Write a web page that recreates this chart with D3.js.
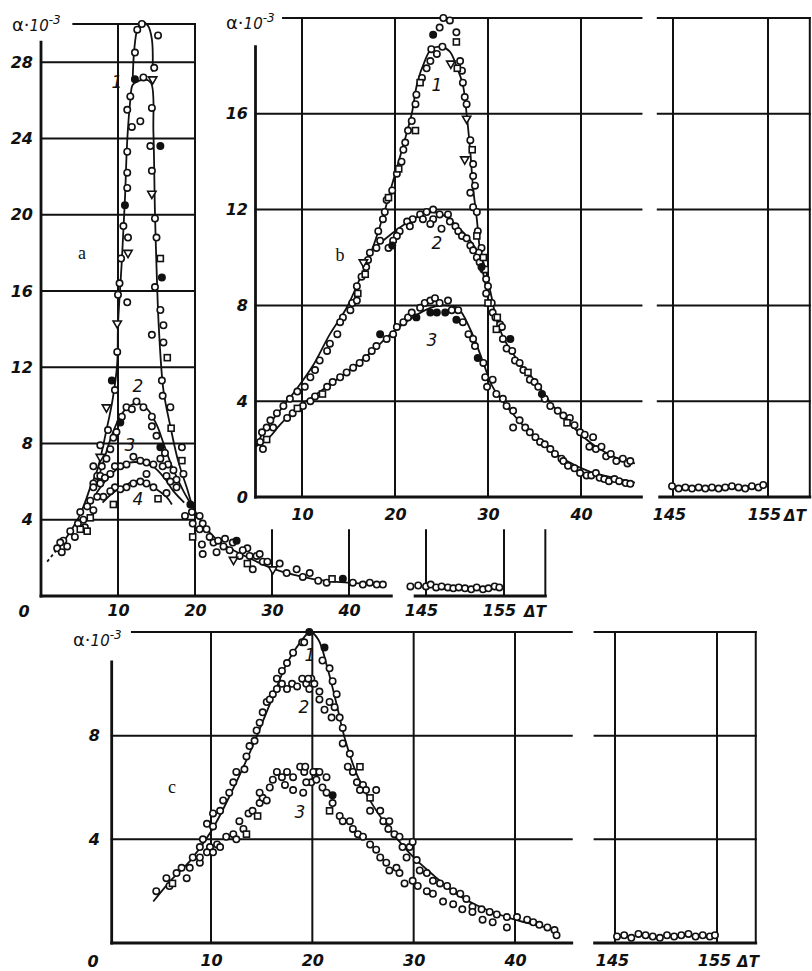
<!DOCTYPE html>
<html><head><meta charset="utf-8">
<script src="https://cdn.jsdelivr.net/npm/d3@7"></script>
<style>body{margin:0;background:#fff}svg{display:block}</style>
</head><body>
<svg id="chart" width="812" height="971"></svg>
<script>
// ---------- tick labels ----------
const aYTicks = [4, 8, 12, 16, 20, 24, 28];
const aXTicks = [10, 20, 30, 40];
const bYTicks = [4, 8, 12, 16];
const bXTicks = [10, 20, 30, 40];
const cYTicks = [4, 8];
const cXTicks = [10, 20, 30, 40];
const breakTicks = [145, 155];

// ---------- panel a : curves ----------
const aTailDash = [[0.8,1.8],[2.0,2.4]];
const aCurve1 = [[2.0,2.4],[3.0,2.9],[4.0,3.5],[5.0,4.2],[5.8,5.0],[6.4,5.7],[7.3,6.6],[8.5,8.7],[9.3,10.3],[9.9,12.2],[10.0,14.2],[10.5,17.6],[10.9,20.8],[11.2,23.9],[11.6,26.0],[11.9,26.8],[12.6,27.0],[13.5,27.1],[14.3,26.9],[14.6,24.3],[14.8,20.1],[15.0,17.3],[15.3,14.1],[15.9,10.8],[16.8,8.9],[17.8,7.1],[19.0,5.6],[19.7,4.7],[21,3.8],[23,2.9],[25,2.4],[27.5,1.9],[30,1.45],[33,1.1],[36,0.85],[40,0.7],[44.5,0.6]];
const aCurve1Top = [[11.9,27.0],[12.1,28.6],[12.5,29.7],[13.1,30.1],[13.9,29.9],[14.4,29.2],[14.5,27.5]];
const aCurve2 = [[7.0,5.6],[8.0,6.9],[9.0,8.2],[10.0,9.2],[11.0,9.8],[12.4,10.1],[13.8,9.8],[15.0,9.0],[16.0,7.9],[17.0,6.8],[18.5,5.5],[19.5,4.8]];
const aCurve3 = [[7.2,5.4],[8.5,6.1],[10,6.7],[11.5,7.0],[13,7.0],[14.5,6.8],[16,6.2],[17.2,5.5],[18.6,4.9]];
const aCurve4 = [[8.0,4.9],[9.0,5.3],[10.5,5.7],[12,6.0],[13.5,5.95],[15,5.6],[16.3,5.2],[17.0,4.8]];

// ---------- panel a : measured points ----------
const aOpen = [[13.1,30.0],[12.5,29.7],[12.2,28.5],[15.2,29.4],[14.7,27.7],[13.3,27.2],[11.6,26.2],[11.2,25.5],[12.9,24.9],[14.4,25.6],[11.8,24.6],[14.2,23.6],[11.2,23.3],[11.2,22.2],[14.4,22.3],[11.2,21.4],[14.8,19.8],[10.7,19.4],[11.3,18.8],[15.0,18.8],[10.4,17.7],[10.2,16.4],[14.8,16.2],[10.0,15.8],[11.2,15.4],[15.5,15.0],[15.9,14.2],[14.4,13.7],[15.9,13.3],[9.9,12.8],[9.6,10.8],[15.7,11.3],[15.8,10.5],[16.8,9.9],[8.7,8.7],[7.7,7.9],[18.3,7.8],[6.8,6.8],[7.3,6.3],[18.5,6.4],[6.8,5.9],
 [12.4,10.2],[11.1,9.9],[13.3,9.9],[11.8,9.8],[14.4,9.4],[10.5,9.4],[9.8,8.6],[14.4,8.9],[15.0,8.4],[9.4,8.3],[9.0,7.7],[16.1,7.5],[8.5,7.2],[16.5,6.9],[7.9,6.8],[17.2,6.6],[7.7,6.3],[17.6,6.1],
 [12.0,7.3],[12.9,7.1],[13.7,7.0],[11.1,6.9],[14.6,6.9],[15.5,7.2],[10.3,6.8],[9.6,6.8],[15.8,6.8],[9.0,6.4],[16.3,6.3],[8.3,6.2],[16.8,6.0],[7.7,5.9],[17.6,5.7],[13.7,6.4],
 [12.9,6.0],[12.0,5.9],[13.7,5.9],[11.1,5.7],[14.6,5.7],[10.3,5.6],[9.6,5.7],[9.0,5.5],[16.3,5.4],[8.1,5.2],
 [7.3,5.2],[6.4,5.0],[6.0,4.7],[6.8,4.5],[5.1,4.4],[5.5,4.0],[4.8,3.8],[5.7,3.6],[3.8,3.4],[2.9,2.9],[2.5,2.8],[3.4,2.6],[2.1,2.5],[2.7,2.3],[4.4,3.1],[6.8,5.7],
 [19.6,4.4],[18.7,4.2],[19.7,3.8],[20.6,4.2],[21.0,3.8],[20.6,3.5],[21.5,3.5],[21.9,3.1],[20.9,2.7],[21.0,2.2],[22.4,2.8],[23.0,2.9],[22.8,2.3],[23.7,2.6],[23.9,3.0],[24.5,2.4],[25.8,2.1],[26.8,2.5],[27.5,1.4],[28.0,2.1],[28.8,1.8],[24.9,2.8],[26.2,2.4],[27.1,2.1],[28.4,2.2],[29.4,1.8],[31.0,1.7],[31.9,1.2],[33.2,1.4],[34.0,1.0],[34.9,1.2],[36.0,0.8],[37.1,0.7],[40.5,0.7],[41.8,0.6],[42.7,0.7],[43.6,0.6],[44.4,0.6]];
const aFilled = [[12.2,27.1],[15.5,23.6],[10.9,20.5],[15.7,16.7],[9.2,11.3],[10.3,9.1],[15.5,7.8],[19.4,4.8],[25.4,2.9],[39.2,0.9]];
const aSquare = [[15.5,17.7],[16.4,12.5],[16.9,8.8],[18.3,7.1],[15.2,5.1],[9.4,4.8],[6.4,4.1],[5.1,3.5],[6.0,3.4],[19.7,3.1],[26.8,1.7],[37.8,0.9]];
const aTriangle = [[14.5,27.1],[14.4,21.1],[11.3,18.0],[9.9,14.3],[8.5,9.9],[7.7,7.3],[25.0,1.9],[30.1,1.4]];
const aBreakPts = [[143.0,0.5],[144.0,0.55],[145.0,0.5],[145.6,0.6],[146.3,0.45],[147.0,0.5],[147.8,0.45],[148.5,0.4],[149.2,0.45],[150.0,0.4],[150.8,0.35],[151.5,0.45],[152.3,0.35],[153.0,0.4],[153.8,0.5],[154.4,0.45]];

// ---------- panel b : curves ----------
const bCurve1 = [[5.0,2.1],[6,2.8],[7.6,3.6],[9.4,4.5],[11.2,5.5],[13.0,6.8],[14.8,7.9],[16.2,9.1],[17.6,10.4],[18.7,11.7],[19.8,13.2],[20.9,14.7],[21.8,16.0],[22.4,17.3],[23.2,18.2],[23.9,18.7],[25.0,18.8],[25.9,18.6],[26.6,18.0],[27.3,17.2],[27.7,16.0],[28.1,14.4],[28.4,12.9],[28.8,11.6],[29.1,10.4],[29.5,9.3],[29.9,8.6]];
const bCurve2 = [[17.5,10.3],[18.7,10.7],[20,11.1],[21.5,11.5],[23,11.8],[24.1,11.9],[25.5,11.7],[26.7,11.3],[28.1,10.7],[29.5,9.8],[30.3,8.5],[31,7.3],[32,6.4],[33.4,5.6],[35.3,4.7],[37,3.8],[38.5,3.2],[40,2.6],[42,2.0],[44,1.6],[45.8,1.4]];
const bCurve3 = [[5.0,2.1],[6.5,2.5],[7.6,3.0],[9.4,3.7],[11.2,4.2],[13,4.7],[14.8,5.2],[17.3,6.0],[19.8,6.9],[21.9,7.5],[23.8,7.9],[25,8.0],[26.7,7.9],[28.1,7.0],[29.5,5.6],[30.5,4.6],[32.4,3.6],[34.5,2.7],[36.7,2.0],[38.5,1.5],[41,1.05],[43.5,0.8],[45.8,0.6]];

// ---------- panel b : measured points ----------
const bOpen = [[25.2,20.0],[25.9,19.9],[24.8,19.6],[26.6,19.4],[23.9,18.7],[25.1,18.8],[24.5,18.5],[27.0,18.2],[23.8,18.2],[23.4,17.9],[27.2,17.8],[22.9,17.5],[27.3,17.3],[22.3,16.8],[27.5,16.7],[27.7,16.4],[22.2,16.4],[21.8,15.7],[21.4,15.3],[21.1,14.8],[20.9,14.5],[28.1,14.9],[20.7,14.0],[28.4,13.9],[20.2,13.5],[28.4,13.4],[19.7,12.8],[28.6,13.0],[28.1,12.7],[19.1,12.4],[28.4,12.1],[18.9,11.9],[28.8,11.9],[18.7,11.6],[28.9,11.1],[18.2,11.1],[18.4,10.7],[18.0,10.4],[29.3,10.4],[29.0,10.2],[17.3,10.2],[17.1,9.9],[16.9,9.6],[16.4,9.2],[29.8,9.1],[15.9,8.8],[29.8,8.5],[15.4,8.1],
 [24.1,12.0],[23.4,11.9],[22.7,11.8],[24.8,11.8],[25.7,11.8],[21.9,11.6],[23.0,11.6],[24.1,11.6],[25.9,11.5],[21.3,11.5],[23.8,11.4],[21.6,11.3],[25.0,11.2],[26.5,11.3],[20.5,11.1],[26.8,11.1],[20.2,10.9],[27.2,10.9],[19.8,10.7],[27.7,10.8],[28.1,10.5],[19.3,10.4],[28.4,10.3],[28.8,10.0],[29.1,9.8],[29.5,9.5],[30.0,8.8],[30.4,8.1],[30.5,7.7],[31.3,7.2],[30.8,7.5],[31.5,7.1],[31.6,6.6],[32.0,6.2],[32.6,6.1],[32.9,5.7],[33.4,5.6],[33.8,5.3],[34.5,4.9],[35.0,4.8],[35.4,4.6],[36.1,4.1],[36.7,3.8],[37.5,3.6],[38.1,3.4],[38.8,3.3],[39.3,3.0],[39.9,2.7],[40.4,2.6],[41.3,2.5],[40.9,2.1],[41.6,2.0],[42.2,2.1],[42.7,1.7],[43.2,1.8],[43.8,1.5],[44.5,1.6],[45.0,1.4],[45.3,1.5],
 [14.4,7.5],[15.2,7.8],[14.1,7.3],[15.9,8.2],[13.8,6.8],[13.0,6.4],[12.7,6.1],[11.9,5.7],[11.4,5.3],[10.9,5.0],[10.3,4.6],[9.5,4.4],[8.7,4.1],[8.0,3.8],[7.3,3.5],[6.6,3.2],[6.2,2.9],[5.7,2.7],[5.5,2.3],[5.8,2.0],[6.9,2.9],
 [8.4,3.3],[9.0,3.5],[10.1,3.8],[10.9,4.0],[11.4,4.2],[12.7,4.6],[13.3,4.8],[14.1,5.0],[14.8,5.2],[15.5,5.4],[16.2,5.6],[16.9,5.8],[17.5,6.1],[18.0,6.3],[19.1,6.6],[19.8,6.8],[20.2,7.1],[20.9,7.3],[21.4,7.5],[21.8,7.7],[22.7,7.9],[23.2,8.1],[23.8,8.2],[24.3,8.3],[24.8,8.1],[25.7,8.2],[26.1,7.8],[26.8,7.8],[27.3,7.3],[27.9,6.8],[28.4,6.6],[28.6,6.3],[29.5,5.6],[29.7,5.0],[29.9,4.6],[30.5,4.9],[30.9,4.3],[31.6,4.1],[32.0,3.8],[32.7,3.6],[32.7,2.9],[33.4,3.2],[34.0,2.9],[34.5,2.7],[35.1,2.5],[35.6,2.3],[36.1,2.2],[36.7,2.0],[37.2,1.8],[37.9,1.6],[38.1,1.5],[38.6,1.3],[39.3,1.2],[39.9,1.0],[40.6,0.9],[41.1,0.9],[41.6,1.0],[42.0,0.8],[42.5,0.75],[43.0,0.66],[43.6,0.75],[44.1,0.66],[44.8,0.58],[45.3,0.55]];
const bFilled = [[24.1,19.3],[29.3,9.6],[19.7,10.5],[32.4,6.6],[35.8,4.3],[18.4,6.8],[22.3,7.5],[23.8,7.7],[24.5,7.7],[25.4,7.7],[26.6,7.4],[28.9,5.8]];
const bSquare = [[26.6,19.0],[26.7,17.9],[22.7,17.3],[22.2,15.3],[28.3,14.5],[20.4,13.7],[19.3,12.5],[28.8,10.9],[29.5,10.0],[29.7,9.5],[16.8,9.3],[16.0,8.5],[30.0,8.1],[31.0,7.5],[30.9,7.0],[34.3,5.2],[38.5,3.1],[6.2,2.4],[9.5,3.7],[12.2,4.3]];
const bTriangle = [[26.0,18.1],[27.7,15.8],[27.5,14.1],[16.6,9.8]];
const bBreakPts = [[144.9,0.45],[145.6,0.35],[146.3,0.4],[147.0,0.35],[147.7,0.4],[148.4,0.35],[149.1,0.4],[149.8,0.35],[150.5,0.4],[151.2,0.45],[151.9,0.4],[152.6,0.35],[153.3,0.45],[154.0,0.4],[154.5,0.5]];

// ---------- panel c : curve ----------
const cCurve1 = [[4.3,1.6],[6,2.4],[8,3.2],[10,4.3],[12,5.8],[14,7.5],[16,9.4],[17.5,10.8],[18.8,11.6],[19.8,12.0],[20.6,11.7],[21.5,10.6],[22.4,9.2],[23.2,7.9],[24.4,6.5],[26,5.3],[28,4.2],[30,3.3],[32,2.6],[34.2,1.9],[36.8,1.35],[40,0.9],[44.2,0.5]];

// ---------- panel c : measured points ----------
const cOpen = [[4.6,2.0],[5.6,2.5],[5.9,2.2],[6.6,2.7],[7.1,2.9],[7.6,2.5],[7.9,2.9],[8.2,3.3],[8.9,3.1],[8.9,3.7],[9.2,4.0],[9.9,3.7],[9.6,4.6],[10.2,4.5],[10.2,5.0],[10.9,5.1],[11.2,5.5],[11.8,5.8],[12.2,6.2],[12.5,6.6],[13.3,6.7],[13.5,7.2],[13.8,7.6],[14.3,7.8],[14.5,8.2],[14.8,8.5],[15.1,8.9],[15.5,9.3],[15.8,9.4],[16.1,9.6],[16.5,9.8],[17.0,10.0],[17.5,9.8],[18.0,10.0],[18.5,9.9],[19.0,10.2],[19.4,10.0],[19.9,10.2],[16.5,10.2],[17.0,10.5],[17.5,10.8],[18.1,11.2],[19.0,11.6],[19.2,11.6],[21.0,10.9],[21.7,10.6],[22.0,10.1],[22.4,9.6],[22.2,9.1],[22.7,8.7],[23.0,8.3],[23.0,7.7],[23.7,7.3],[23.5,6.8],[24.0,6.6],[24.4,6.2],[25.0,6.1],[25.3,5.9],[24.7,5.9],[26.3,5.9],[25.7,5.1],[26.7,5.1],[27.0,4.7],[27.6,4.7],[27.5,4.4],[28.1,4.2],[28.6,4.1],[28.9,3.7],[29.6,3.7],[29.9,3.9],[29.3,3.3],[30.3,3.2],[30.6,2.8],[31.3,2.7],[31.9,2.4],[32.6,2.3],[33.3,2.2],[33.9,2.0],[34.6,1.9],[35.2,1.7],[35.8,1.4],[36.7,1.3],[37.5,1.2],[38.2,1.1],[39.2,1.0],[40.2,1.0],[41.2,0.9],[41.8,0.8],[42.4,0.7],[43.2,0.6],[43.9,0.5],[44.1,0.3],[19.6,10.2],[20.2,10.0],[19.7,9.8],[20.7,9.7],[20.7,9.4],[21.2,9.0],[21.7,9.3],[21.9,8.7],
 [8.9,3.3],[9.6,3.5],[10.2,3.5],[10.6,3.8],[10.9,3.7],[11.5,4.1],[12.2,4.2],[12.5,4.0],[13.2,4.4],[12.8,4.7],[13.7,5.0],[14.1,5.1],[14.8,5.4],[15.1,5.6],[15.5,5.5],[14.8,5.8],[15.8,6.0],[16.1,6.3],[16.5,6.6],[17.0,6.4],[17.3,6.1],[17.5,6.6],[18.1,6.4],[18.1,5.9],[18.8,6.8],[19.1,5.8],[19.2,6.6],[19.9,6.2],[20.4,6.6],[19.3,6.8],[20.1,6.6],[20.7,6.6],[19.4,6.2],[20.4,6.3],[21.4,6.4],[21.0,6.0],[21.4,5.8],[22.0,5.4],[22.7,4.9],[23.0,4.7],[23.7,4.7],[24.0,4.4],[24.5,4.2],[25.0,4.1],[25.7,3.8],[26.3,3.6],[26.7,3.3],[27.3,3.1],[27.6,2.8],[28.3,2.9],[28.6,2.7],[29.1,2.3],[29.9,2.4],[30.4,2.2],[31.3,2.0],[31.9,1.9],[32.9,1.6],[33.9,1.5],[34.8,1.3],[35.8,1.2],[36.8,0.9],[37.8,0.8],[39.2,0.6]];
const cFilled = [[19.7,12.0],[21.2,11.4],[22.0,5.7]];
const cSquare = [[6.2,2.3],[24.7,6.8],[25.7,5.6],[13.5,4.2],[14.6,4.9],[21.7,5.1]];
const cBreakPts = [[145.2,0.25],[145.9,0.3],[146.6,0.2],[147.3,0.35],[148.0,0.3],[148.7,0.25],[149.4,0.2],[150.1,0.3],[150.8,0.25],[151.5,0.3],[152.2,0.35],[152.9,0.25],[153.6,0.3],[154.3,0.25],[154.8,0.3]];

// ================= drawing =================
const svg = d3.select("#chart");
const INK = "#111";
const FONT = "'DejaVu Sans', sans-serif";

// scales
const xA = d3.scaleLinear().domain([0, 45.5]).range([41, 391.35]);
const yA = d3.scaleLinear().domain([0, 30]).range([596, 24]);
const xAB = d3.scaleLinear().domain([145, 155]).range([426, 504]);
const xB = d3.scaleLinear().domain([10, 40]).range([302, 581]);
const yB = d3.scaleLinear().domain([0, 20]).range([497, 18]);
const xBB = d3.scaleLinear().domain([145, 155]).range([673, 768]);
const xC = d3.scaleLinear().domain([10, 40]).range([211, 515]);
const yC = d3.scaleLinear().domain([0, 12]).range([943, 632]);
const xCB = d3.scaleLinear().domain([145, 155]).range([615, 717]);

const gridG = svg.append("g");
function hl(sx, sy, v, a, b, w) {
  gridG.append("line").attr("x1", sx(a)).attr("x2", sx(b)).attr("y1", sy(v)).attr("y2", sy(v))
    .attr("stroke", INK).attr("stroke-width", w || 2).attr("stroke-linecap", "square");
}
function vl(sx, sy, v, a, b, w) {
  gridG.append("line").attr("x1", sx(v)).attr("x2", sx(v)).attr("y1", sy(a)).attr("y2", sy(b))
    .attr("stroke", INK).attr("stroke-width", w || 2).attr("stroke-linecap", "square");
}

// ---- panel a frame ----
aYTicks.forEach(v => hl(xA, yA, v, 0, 20));
hl(xA, yA, 30, 4.2, 20);
[10, 20].forEach(v => vl(xA, yA, v, 0, 30));
[30, 40].forEach(v => vl(xA, yA, v, 0, 3.45));
vl(xA, yA, 0, 0, 29.05, 2.8);
hl(xA, yA, 0, 0, 45.5, 2.8);
breakTicks.forEach(v => vl(xAB, yA, v, 0, 3.45));
vl(xAB, yA, 160.3, 0, 3.45);
hl(xAB, yA, 0, 143.6, 160.3, 2.8);

// ---- panel b frame ----
bYTicks.forEach(v => hl(xB, yB, v, 5, 46.5));
hl(xB, yB, 20, 7.96, 46.5);
bXTicks.forEach(v => vl(xB, yB, v, 0, 20));
vl(xB, yB, 5, 0, 18.8, 2.8);
hl(xB, yB, 0, 5, 46.5, 2.8);
[4, 8, 12, 16, 20].forEach(v => hl(xBB, yB, v, 143.4, 159.4));
breakTicks.forEach(v => vl(xBB, yB, v, 0, 20));
vl(xBB, yB, 159.4, 0, 20);
hl(xBB, yB, 0, 143.6, 159.4, 2.8);

// ---- panel c frame ----
cYTicks.forEach(v => hl(xC, yC, v, 0.2, 45.6));
hl(xC, yC, 12, 2.2, 45.6);
cXTicks.forEach(v => vl(xC, yC, v, 0, 12));
vl(xC, yC, 0.2, 0, 10.85, 2.8);
hl(xC, yC, 0, 0.2, 45.6, 2.8);
[4, 8, 12].forEach(v => hl(xCB, yC, v, 143.0, 158.8));
breakTicks.forEach(v => vl(xCB, yC, v, 0, 12));
vl(xCB, yC, 158.8, 0, 12);
hl(xCB, yC, 0, 143.0, 158.8, 2.8);

// ---- curves ----
const curveG = svg.append("g").attr("fill", "none").attr("stroke", INK).attr("stroke-width", 1.8);
function curve(sx, sy, data, dash) {
  const line = d3.line().x(d => sx(d[0])).y(d => sy(d[1])).curve(d3.curveCatmullRom.alpha(0.5));
  const p = curveG.append("path").attr("d", line(data));
  if (dash) p.attr("stroke-dasharray", dash);
}
curve(xA, yA, aTailDash, "3,3");
curve(xA, yA, aCurve1);
curve(xA, yA, aCurve1Top);
curve(xA, yA, aCurve2);
curve(xA, yA, aCurve3);
curve(xA, yA, aCurve4);
curve(xB, yB, bCurve1);
curve(xB, yB, bCurve2);
curve(xB, yB, bCurve3);
curve(xC, yC, cCurve1);

// ---- markers ----
const markG = svg.append("g");
function pts(sx, sy, data, kind) {
  const g = markG.append("g").attr("stroke", INK).attr("stroke-width", 1.6);
  if (kind === "open" || kind === "filled") {
    g.selectAll("circle").data(data).join("circle")
      .attr("cx", d => sx(d[0])).attr("cy", d => sy(d[1])).attr("r", 3.2)
      .attr("fill", kind === "filled" ? INK : "#fff");
  } else if (kind === "square") {
    g.selectAll("rect").data(data).join("rect")
      .attr("x", d => sx(d[0]) - 3).attr("y", d => sy(d[1]) - 3)
      .attr("width", 6).attr("height", 6).attr("fill", "#fff");
  } else {
    const sym = d3.symbol().type(d3.symbolTriangle).size(30);
    g.selectAll("path").data(data).join("path")
      .attr("d", sym).attr("fill", "#fff")
      .attr("transform", d => `translate(${sx(d[0])},${sy(d[1])}) rotate(180)`);
  }
}
pts(xA, yA, aOpen, "open");
pts(xA, yA, aSquare, "square");
pts(xA, yA, aTriangle, "tri");
pts(xA, yA, aFilled, "filled");
pts(xAB, yA, aBreakPts, "open");
pts(xB, yB, bOpen, "open");
pts(xB, yB, bSquare, "square");
pts(xB, yB, bTriangle, "tri");
pts(xB, yB, bFilled, "filled");
pts(xBB, yB, bBreakPts, "open");
pts(xC, yC, cOpen, "open");
pts(xC, yC, cSquare, "square");
pts(xC, yC, cFilled, "filled");
pts(xCB, yC, cBreakPts, "open");

// ---- axis tick labels ----
function styleAxis(g) {
  g.select(".domain").remove();
  g.selectAll("line").remove();
  g.attr("font-family", FONT).attr("font-size", 16).attr("font-style", "italic").attr("font-weight", "bold");
  g.selectAll("text").attr("fill", INK);
}
function leftLabels(sy, x, vals, pad) {
  svg.append("g").attr("transform", `translate(${x},0)`)
    .call(d3.axisLeft(sy).tickValues(vals).tickSize(0).tickPadding(pad).tickFormat(d3.format("d")))
    .call(styleAxis);
}
function bottomLabels(sx, y, vals, pad, dx) {
  svg.append("g").attr("transform", `translate(${dx || 0},${y})`)
    .call(d3.axisBottom(sx).tickValues(vals).tickSize(0).tickPadding(pad).tickFormat(d3.format("d")))
    .call(styleAxis);
}
leftLabels(yA, 41, aYTicks, 8);
bottomLabels(xA, 596, aXTicks, 9);
bottomLabels(xAB, 596, breakTicks, 9, -5);
leftLabels(yB, 256, bYTicks.concat([0]), 8);
bottomLabels(xB, 497, bXTicks, 12);
bottomLabels(xBB, 497, breakTicks, 12, -4);
leftLabels(yC, 112, cYTicks, 12);
bottomLabels(xC, 943, cXTicks, 12);
bottomLabels(xCB, 943, breakTicks, 12, -3);

// ---- free texts ----
function txt(x, y, s, opts) {
  return svg.append("text").attr("x", x).attr("y", y).text(s)
    .attr("font-family", (opts && opts.family) || FONT)
    .attr("font-size", (opts && opts.size) || 16)
    .attr("font-style", (opts && opts.style) || "italic")
    .attr("font-weight", (opts && opts.weight) || "bold")
    .attr("text-anchor", (opts && opts.anchor) || "middle")
    .attr("fill", INK);
}
// corner zeros
txt(24, 617, "0");
txt(93, 967, "0");
// ΔT
txt(535, 617, "ΔT", { size: 15 });
txt(795, 521, "ΔT", { size: 15 });
txt(748, 967, "ΔT", { size: 15 });
// alpha labels
function alpha(x, y) {
  const t = svg.append("text").attr("x", x).attr("y", y)
    .attr("font-family", FONT).attr("font-size", 18).attr("fill", INK);
  t.append("tspan").text("α·");
  t.append("tspan").attr("font-style", "italic").attr("font-size", 15).text("10");
  t.append("tspan").attr("font-style", "italic").attr("font-size", 12).attr("dy", -7).text("-3");
}
alpha(12, 31);
alpha(226, 29);
alpha(73, 646);
// panel letters
const serif = { family: "'Liberation Serif', serif", style: "normal", weight: "normal", size: 18 };
txt(82, 259, "a", serif);
txt(340, 261, "b", serif);
txt(172, 793, "c", serif);
// curve numbers
[[117, 88, "1"], [138, 392, "2"], [130, 451, "3"], [138, 505, "4"],
 [437, 91, "1"], [437, 249, "2"], [432, 346, "3"],
 [310, 661, "1"], [304, 713, "2"], [300, 818, "3"]].forEach(d => txt(d[0], d[1], d[2], { weight: "normal", size: 17 }));
</script>
</body></html>
